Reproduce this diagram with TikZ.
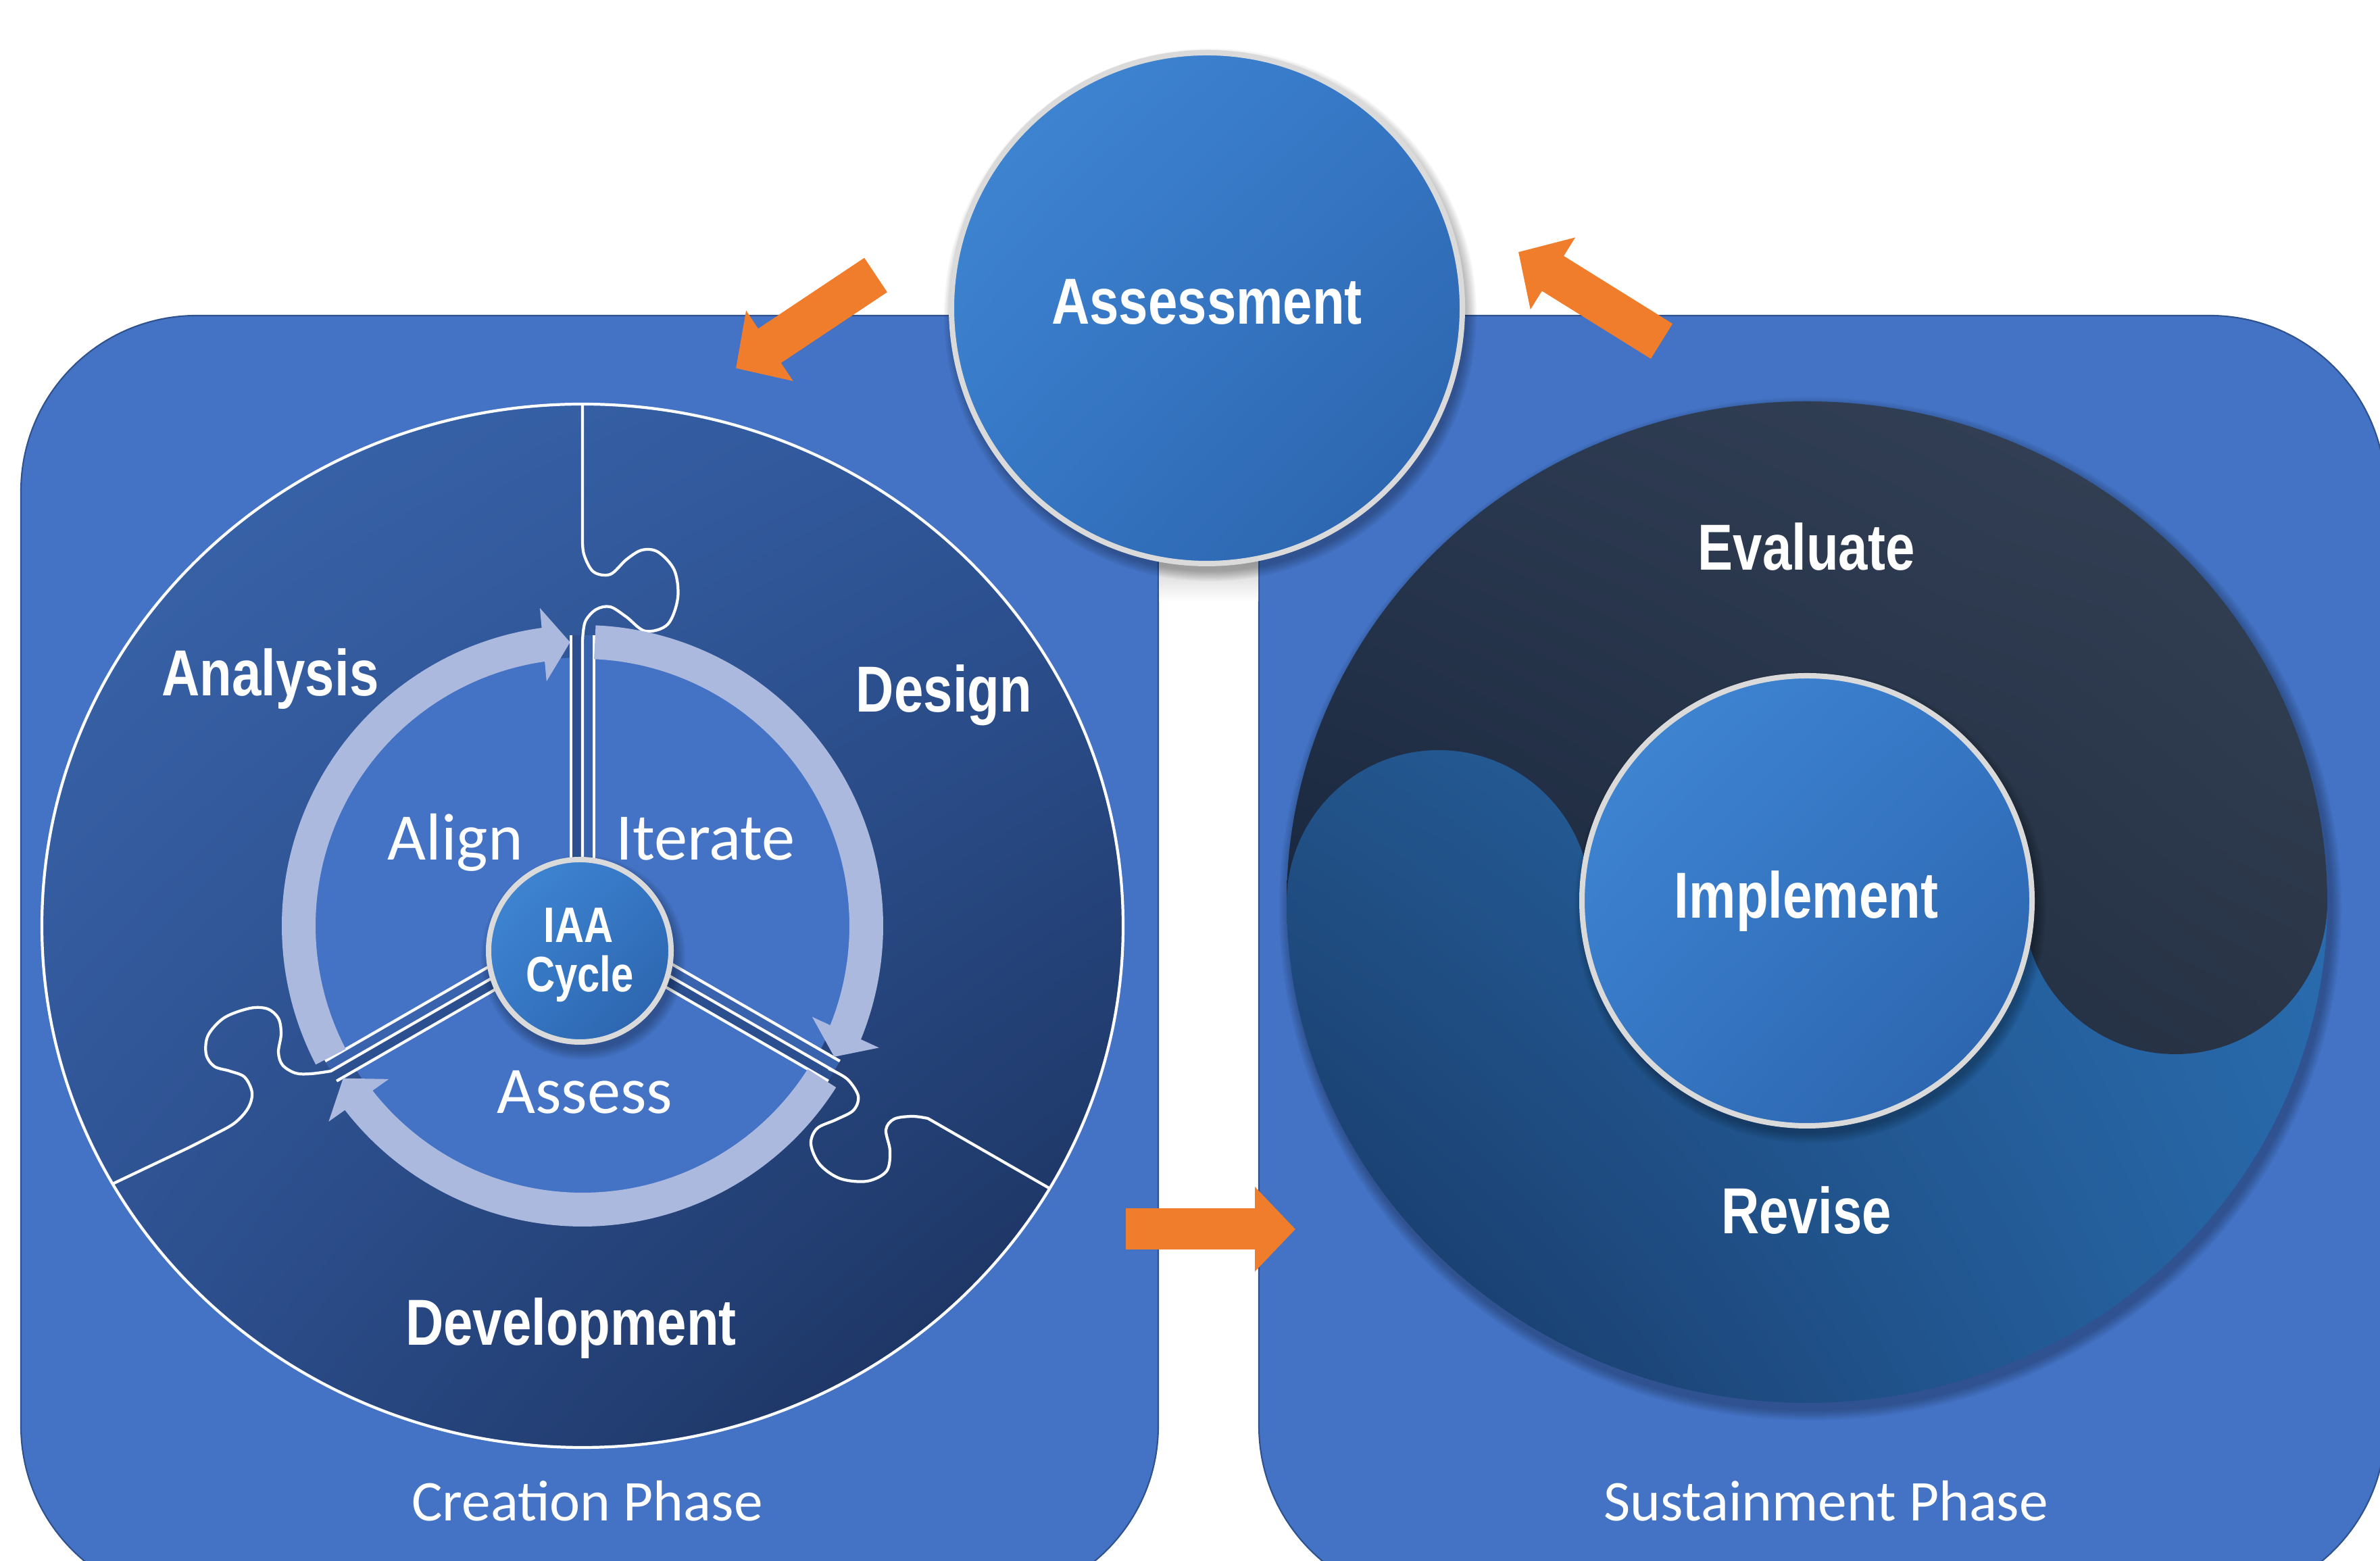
\documentclass[tikz,border=0pt]{standalone}
\usepackage{fontspec}
\setmainfont{Carlito}
\newfontfamily\condb{Liberation Sans}[FakeStretch=0.81]
\usetikzlibrary{arrows.meta,bending,calc,shadings}
\definecolor{panel}{HTML}{4472C4}
\definecolor{panelEdge}{HTML}{2F528F}
\definecolor{ringC}{HTML}{ABB9DE}
\definecolor{arrOr}{HTML}{F07D2B}
\definecolor{pzUL}{HTML}{3B67AE}
\definecolor{pzUR}{HTML}{2F5699}
\definecolor{pzLL}{HTML}{2D5090}
\definecolor{pzLR}{HTML}{182C55}
\definecolor{spDark}{HTML}{2B4F8F}
\definecolor{spLight}{HTML}{3A63AD}
\definecolor{btnA}{HTML}{4189D6}
\definecolor{btnB}{HTML}{3576C4}
\definecolor{btnC}{HTML}{2A60A8}
\definecolor{btnEdge}{HTML}{DADADA}
\definecolor{dkUL}{HTML}{2A3850}
\definecolor{dkUR}{HTML}{354256}
\definecolor{dkLL}{HTML}{15233A}
\definecolor{dkLR}{HTML}{2A3547}
\definecolor{blUL}{HTML}{28649F}
\definecolor{blUR}{HTML}{2B71B6}
\definecolor{blLL}{HTML}{163461}
\definecolor{blLR}{HTML}{2766A6}
\newcommand\mysoftshadow[4]{%
  \foreach \k in {1,...,8} {\fill[black, opacity=0.035] ($(#1,#2)+(0.05,-0.10)$) ellipse[x radius={#3+0.02*\k}, y radius={#4+0.02*\k}];}%
}
\begin{document}
\begin{tikzpicture}[
  pzline/.style={draw=white, line width=1.2pt},
  ringarc/.style={draw=ringC, line width=5mm, -{Triangle[width=10.7mm,length=4mm]}},
  orarrow/.style={draw=arrOr, line width=6.1mm, -{Triangle[width=12.2mm,length=6mm]}},
  panelbox/.style={fill=panel, draw=panelEdge, line width=0.6pt, rounded corners=2.6cm},
  btnnode/.style={circle, draw=btnEdge, line width=0.8mm, inner sep=0, shade, upper left=btnA, upper right=btnB, lower left=btnB, lower right=btnC},
  boldlbl/.style={text=white, inner sep=0, anchor=base, font=\condb\bfseries\fontsize{27.4}{30}\selectfont},
  smallbold/.style={text=white, inner sep=0, anchor=base, font=\condb\bfseries\fontsize{21}{23}\selectfont},
  lightlbl/.style={text=white, inner sep=0, anchor=base, font=\fontsize{28}{32}\selectfont},
  phaselbl/.style={text=white, inner sep=0, anchor=base, font=\fontsize{24.3}{28}\selectfont},
]
\useasboundingbox (0,0) rectangle (35.22,23.10);
\clip (0,0) rectangle (35.22,23.10);
\fill[white] (0,0) rectangle (35.22,23.10);

% phase panels
\draw[panelbox] (0.31,-0.60) rectangle (17.14,18.43);
\draw[panelbox] (18.63,-0.60) rectangle (35.30,18.43);

% soft shade in the gap under the Assessment circle
\shade[top color=black!22, bottom color=white] (17.15,14.90) rectangle (18.62,14.20);

% ---------- Creation phase: puzzle circle ----------
\coordinate (C) at (8.62,9.40);
\shade[upper left=pzUL, upper right=pzUR, lower left=pzLL, lower right=pzLR] (C) ellipse [x radius=8.0, y radius=7.72];
\draw[white, line width=1.2pt] (C) ellipse [x radius=8.0, y radius=7.72];

% hub
\fill[panel] (C) circle (3.97);

% spokes
\foreach \a/\ca/\cb in {90/spDark/spLight, -30/spLight/spDark, 210/spDark/spLight} {
  \begin{scope}[shift={(C)}, rotate=\a]
    \fill[\ca] (0.6,0) rectangle (4.30,0.17);
    \fill[\cb] (0.6,-0.17) rectangle (4.30,0);
    \draw[pzline] (0.6,0.17) -- (4.30,0.17) (0.6,-0.17) -- (4.30,-0.17);
  \end{scope}
}

% puzzle boundaries with knobs
\draw[pzline] ($(C)+(90:0.6)$) -- (8.62,13.62) -- plot[smooth, tension=0.55] coordinates {(8.62,13.62) (8.66,13.90) (8.82,14.08) (9.03,14.12) (9.27,13.97) (9.55,13.76) (9.88,13.86) (10.03,14.25) (9.98,14.66) (9.74,14.93) (9.50,14.96) (9.27,14.82) (9.03,14.60) (8.78,14.64) (8.64,14.90) (8.62,15.15)} -- (8.62,17.13);
\draw[pzline] ($(C)+(210:0.6)$) -- ($(C)+(210:4.30)$) -- plot[smooth, tension=0.55] coordinates {(4.90,7.25) (4.60,7.21) (4.37,7.22) (4.18,7.34) (4.12,7.53) (4.16,7.80) (4.12,8.03) (3.96,8.17) (3.70,8.18) (3.32,8.04) (3.08,7.78) (3.05,7.50) (3.17,7.32) (3.40,7.25) (3.62,7.16) (3.73,6.93) (3.67,6.70) (3.47,6.48) (3.15,6.30) (2.80,6.12)} -- (1.665,5.58);
\draw[pzline] ($(C)+(-30:0.6)$) -- ($(C)+(-30:4.30)$) -- plot[smooth, tension=0.55] coordinates {(12.34,7.25) (12.55,7.12) (12.70,6.88) (12.63,6.67) (12.37,6.53) (12.09,6.40) (12.00,6.17) (12.13,5.87) (12.43,5.66) (12.83,5.62) (13.12,5.77) (13.17,6.07) (13.11,6.38) (13.23,6.54) (13.50,6.58) (13.73,6.55)} -- (15.53,5.515);

% ring arrows
\draw[ringarc] ($(C)+(207.5:4.2)$) arc[start angle=207.5, end angle=92.5, radius=4.2];
\draw[ringarc] ($(C)+(87.5:4.2)$) arc[start angle=87.5, end angle=-27.5, radius=4.2];
\draw[ringarc] ($(C)+(-32.5:4.2)$) arc[start angle=-32.5, end angle=-147.5, radius=4.2];

% IAA button
\mysoftshadow{8.58}{9.03}{1.35}{1.35}
\node[btnnode, minimum size=2.70cm] (iaa) at (8.58,9.03) {};
\node[smallbold] (iaaA) at (8.56,9.15) {IAA};
\node[smallbold] (iaaB) at (8.58,8.42) {Cycle};

% labels, creation phase
\node[boldlbl] (analysis) at (4.00,12.80) {Analysis};
\node[boldlbl] (design) at (13.97,12.56) {Design};
\node[boldlbl] (development) at (8.45,3.19) {Development};
\node[lightlbl] (align) at (6.74,10.37) {Align};
\node[lightlbl] (iterate) at (10.44,10.37) {Iterate};
\node[lightlbl] (assess) at (8.65,6.62) {Assess};
\node[phaselbl] (creation) at (8.69,0.59) {Creation Phase};

% ---------- Sustainment phase ----------
\coordinate (R) at (26.74,9.75);
\mysoftshadow{26.74}{9.75}{7.70}{7.41}
\shade[upper left=blUL, upper right=blUR, lower left=blLL, lower right=blLR] (R) ellipse [x radius=7.70, y radius=7.41];
\shade[upper left=dkUL, upper right=dkUR, lower left=dkLL, lower right=dkLR]
  (19.04,9.75) arc[start angle=180, end angle=0, x radius=7.70, y radius=7.41]
  arc[start angle=0, end angle=-180, radius=2.25] -- (23.54,9.75)
  arc[start angle=0, end angle=180, radius=2.25] -- cycle;
\mysoftshadow{26.74}{9.77}{3.33}{3.33}
\node[btnnode, minimum size=6.66cm] (implementC) at (26.74,9.77) {};
\node[boldlbl] (evaluate) at (26.73,14.66) {Evaluate};
\node[boldlbl] (implement) at (26.73,9.51) {Implement};
\node[boldlbl] (revise) at (26.73,4.84) {Revise};
\node[phaselbl] (sustain) at (27.02,0.59) {Sustainment Phase};

% ---------- Assessment ----------
\mysoftshadow{17.86}{18.54}{3.78}{3.78}
\node[btnnode, minimum size=7.56cm] (assessC) at (17.86,18.54) {};
\node[boldlbl] (assessment) at (17.86,18.30) {Assessment};

% ---------- orange connectors ----------
\coordinate (o1s) at (12.96,19.03);
\coordinate (o1e) at (10.89,17.65);
\coordinate (o2s) at (24.59,18.05);
\coordinate (o2e) at (22.47,19.37);
\coordinate (o3s) at (16.66,4.91);
\coordinate (o3e) at (19.17,4.91);
\draw[orarrow] (o1s) -- (o1e);
\draw[orarrow] (o2s) -- (o2e);
\draw[orarrow] (o3s) -- (o3e);
\end{tikzpicture}
\end{document}
